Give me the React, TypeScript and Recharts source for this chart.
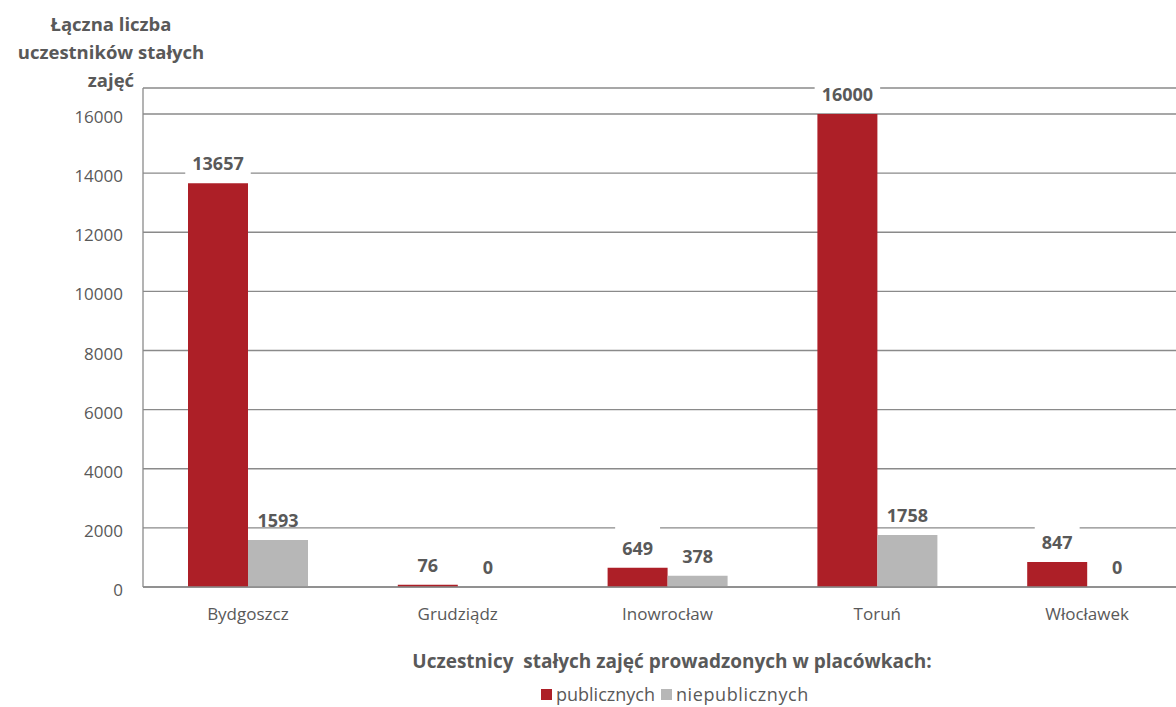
import React from 'react';
import { BarChart, Bar, XAxis, YAxis, CartesianGrid, LabelList } from 'recharts';

const cities = ['Bydgoszcz', 'Grudziądz', 'Inowrocław', 'Toruń', 'Włocławek'];
const publicValues = [13657, 76, 649, 16000, 847];
const nonPublicValues = [1593, 0, 378, 1758, 0];
const yTicks = [0, 2000, 4000, 6000, 8000, 10000, 12000, 14000, 16000];

const RED = '#ad1f27';
const GRAY = '#b7b7b7';
const TEXT = '#595959';
const LINE = '#8a8a8a';
const FONT = '"Open Sans", "Noto Sans", sans-serif';

const data = cities.map((city, i) => ({
  city,
  pub: publicValues[i],
  nonpub: nonPublicValues[i],
}));

// label with white box behind (only the red series has it in the original)
function BoxedLabel(props: any) {
  const { x, y, width, value } = props;
  const cx = x + width / 2;
  const cy = y - 20;
  const w = String(value).length * 10.3 + 14;
  return (
    <g>
      <rect x={cx - w / 2} y={cy - 21} width={w} height={32} fill="#fff" />
      <text x={cx} y={cy} textAnchor="middle" dominantBaseline="central"
        fill={TEXT} fontSize={18} fontWeight={700} fontFamily={FONT}>
        {value}
      </text>
    </g>
  );
}

function PlainLabel(props: any) {
  const { x, y, width, height, value } = props;
  // zero bars get a tiny min size, so use the bar bottom as the top
  const top = value === 0 ? y + height : y;
  return (
    <text x={x + width / 2} y={top - 20} textAnchor="middle" dominantBaseline="central"
      fill={TEXT} fontSize={18} fontWeight={700} fontFamily={FONT}>
      {value}
    </text>
  );
}

export default function App() {
  return (
    <div style={{ position: 'fixed', left: 0, top: 0, width: 1176, height: 707, overflow: 'hidden', background: '#fff', fontFamily: FONT }}>
      <BarChart width={1200} height={707} data={data}
        margin={{ top: 88, right: 8, bottom: 0, left: 0 }} barGap={0}>
        <CartesianGrid vertical={false} stroke={LINE} strokeWidth={1.3} />
        <XAxis dataKey="city" height={120} tickSize={0} tickMargin={21}
          axisLine={{ stroke: LINE, strokeWidth: 1.3 }}
          tick={{ fill: TEXT, fontSize: 17, fontFamily: FONT }} />
        <YAxis width={143} domain={[0, 16880]} ticks={yTicks} tickSize={0} tickMargin={20}
          axisLine={{ stroke: LINE, strokeWidth: 1.3 }} tickLine={false}
          tick={{ fill: TEXT, fontSize: 17, fontFamily: FONT, dy: 3 }} />
        <Bar dataKey="pub" fill={RED} barSize={60} isAnimationActive={false}>
          <LabelList dataKey="pub" content={BoxedLabel} />
        </Bar>
        <Bar dataKey="nonpub" fill={GRAY} barSize={60} minPointSize={0.01} isAnimationActive={false}>
          <LabelList dataKey="nonpub" content={PlainLabel} />
        </Bar>
      </BarChart>

      <div style={{ position: 'absolute', left: 11, top: 10, width: 200, textAlign: 'center',
        fontSize: 18.5, fontWeight: 700, lineHeight: '28px', color: TEXT }}>
        Łączna liczba<br />uczestników stałych<br />zajęć
      </div>

      <div style={{ position: 'absolute', left: 372, top: 648, width: 600, textAlign: 'center',
        fontSize: 19, fontWeight: 700, color: TEXT, lineHeight: '26px', whiteSpace: 'pre' }}>
        {'Uczestnicy  stałych zajęć prowadzonych w placówkach:'}
      </div>

      <div style={{ position: 'absolute', left: 541, top: 684, display: 'flex', alignItems: 'center',
        fontSize: 18, color: TEXT, lineHeight: '20px' }}>
        <span style={{ width: 11, height: 11, background: RED, marginRight: 4 }} />
        <span style={{ marginRight: 6 }}>publicznych</span>
        <span style={{ width: 11, height: 11, background: GRAY, marginRight: 4 }} />
        <span style={{ letterSpacing: 0.6 }}>niepublicznych</span>
      </div>
    </div>
  );
}
